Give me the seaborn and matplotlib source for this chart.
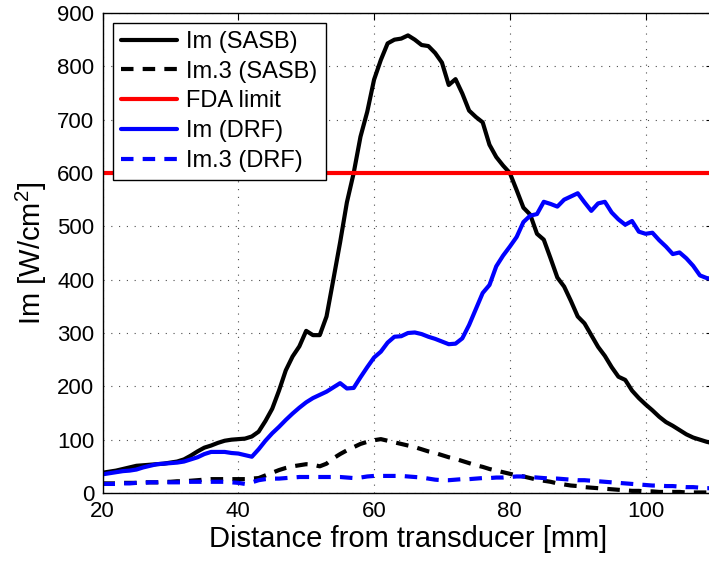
import numpy as np
import pandas as pd
import matplotlib
matplotlib.use("Agg")
import matplotlib.pyplot as plt
import seaborn as sns

# distance from transducer [mm], 1 mm steps
distance = list(range(20, 111))

im_sasb = [38, 40, 42, 45, 48, 51, 52, 53, 54, 55,
           57, 59, 63, 70, 78, 85, 89, 94, 98, 100,
           101, 102, 106, 115, 135, 158, 192, 230, 256, 275,
           304, 296, 296, 331, 400, 470, 545, 600, 668, 715,
           775, 812, 843, 850, 852, 858, 850, 840, 838, 825,
           807, 765, 776, 749, 717, 705, 695, 653, 630, 614,
           600, 568, 535, 522, 486, 475, 440, 404, 387, 360,
           331, 318, 296, 274, 257, 236, 218, 212, 192, 178,
           166, 155, 143, 133, 126, 118, 110, 104, 100, 96,
           93]

im3_sasb = [18, 18, 18, 19, 19, 19, 20, 20, 20, 21,
            21, 22, 22, 23, 24, 25, 26, 26, 26, 26,
            26, 26, 27, 28, 33, 38, 43, 47, 50, 52,
            54, 53, 50, 55, 65, 73, 80, 86, 92, 96,
            99, 101, 98, 95, 92, 89, 86, 82, 78, 75,
            71, 67, 64, 60, 56, 52, 49, 45, 42, 39,
            36, 33, 31, 28, 25, 23, 21, 18, 16, 14,
            13, 11, 10, 9, 8, 7, 6, 5, 4, 4,
            3, 3, 2, 2, 2, 2, 1, 1, 1, 1,
            0]

im_drf = [35, 37, 39, 41, 42, 44, 48, 51, 54, 55,
          56, 57, 59, 63, 67, 73, 77, 77, 77, 75,
          74, 71, 68, 82, 98, 112, 124, 137, 149, 160,
          170, 178, 184, 190, 198, 206, 196, 197, 217, 236,
          254, 265, 282, 293, 294, 300, 301, 298, 293, 289,
          284, 279, 280, 290, 315, 345, 375, 390, 425, 445,
          462, 480, 508, 520, 523, 546, 542, 537, 550, 556,
          562, 545, 529, 543, 546, 526, 513, 503, 510, 490,
          486, 488, 474, 462, 448, 451, 440, 426, 408, 403,
          401]

im3_drf = [17, 17, 17, 18, 18, 19, 19, 20, 20, 20,
           20, 20, 20, 21, 21, 21, 21, 21, 21, 20,
           19, 17, 20, 24, 26, 27, 27, 28, 29, 30,
           30, 30, 30, 30, 30, 30, 29, 28, 29, 31,
           32, 32, 32, 32, 32, 31, 30, 29, 27, 25,
           24, 24, 25, 26, 26, 27, 28, 28, 29, 29,
           30, 31, 31, 30, 29, 28, 27, 27, 26, 25,
           24, 24, 23, 22, 21, 20, 19, 18, 17, 16,
           15, 14, 14, 13, 13, 12, 11, 11, 10, 9,
           9]

fda_limit = 600

x_ticks = [20, 40, 60, 80, 100]
y_ticks = list(range(0, 901, 100))

df = pd.DataFrame({"distance": distance, "im_sasb": im_sasb, "im3_sasb": im3_sasb,
                   "im_drf": im_drf, "im3_drf": im3_drf})

sns.set_style("white")
plt.rcParams["font.family"] = ["Liberation Sans", "DejaVu Sans"]
plt.rcParams["mathtext.fontset"] = "custom"
plt.rcParams["mathtext.rm"] = "Liberation Sans"
plt.rcParams["mathtext.it"] = "Liberation Sans:italic"
plt.rcParams["text.color"] = "black"
plt.rcParams["axes.labelcolor"] = "black"
plt.rcParams["xtick.color"] = "black"
plt.rcParams["ytick.color"] = "black"

fig = plt.figure(figsize=(7.09, 5.62), dpi=100)
# right edge of the axes lies just past the picture, as in the original crop
ax = fig.add_axes([102.5 / 709, 69 / 562, 611 / 709, 480 / 562])

lw = 3
sns.lineplot(data=df, x="distance", y="im_sasb", ax=ax, color="black", lw=lw,
             label="Im (SASB)")
sns.lineplot(data=df, x="distance", y="im3_sasb", ax=ax, color="black", lw=lw,
             linestyle=(0, (3, 2.2)), label="Im.3 (SASB)")
ax.axhline(fda_limit, color="#ff0000", lw=lw, label="FDA limit")
sns.lineplot(data=df, x="distance", y="im_drf", ax=ax, color="#0000ff", lw=lw,
             label="Im (DRF)")
sns.lineplot(data=df, x="distance", y="im3_drf", ax=ax, color="#0000ff", lw=lw,
             linestyle=(0, (3, 2.2)), label="Im.3 (DRF)")

ax.set_xlim(20, 110)
ax.set_ylim(0, 900)
ax.set_xticks(x_ticks)
ax.set_yticks(y_ticks)
ax.tick_params(axis="both", direction="in", length=5, width=0.8, labelsize=16,
               top=True, right=True, pad=6, colors="black")

ax.grid(True, linestyle=(0, (1, 6)), color="0.3", lw=0.8)
for s in ax.spines.values():
    s.set_color("black")
    s.set_linewidth(1)

ax.set_xlabel("Distance from transducer [mm]", fontsize=21, labelpad=2)
ax.set_ylabel(r"Im [W/cm$^{\mathrm{2}}$]", fontsize=21, labelpad=6)

leg = ax.legend(loc="upper left", bbox_to_anchor=(0.0172, 0.98), borderaxespad=0,
                fontsize=17, fancybox=False, framealpha=1, edgecolor="black",
                handlelength=2.35, handletextpad=0.4, labelspacing=0.33,
                borderpad=0.35)
leg.get_frame().set_linewidth(1)
for t in leg.get_texts():
    t.set_color("black")

fig.savefig("out.png", dpi=100)
